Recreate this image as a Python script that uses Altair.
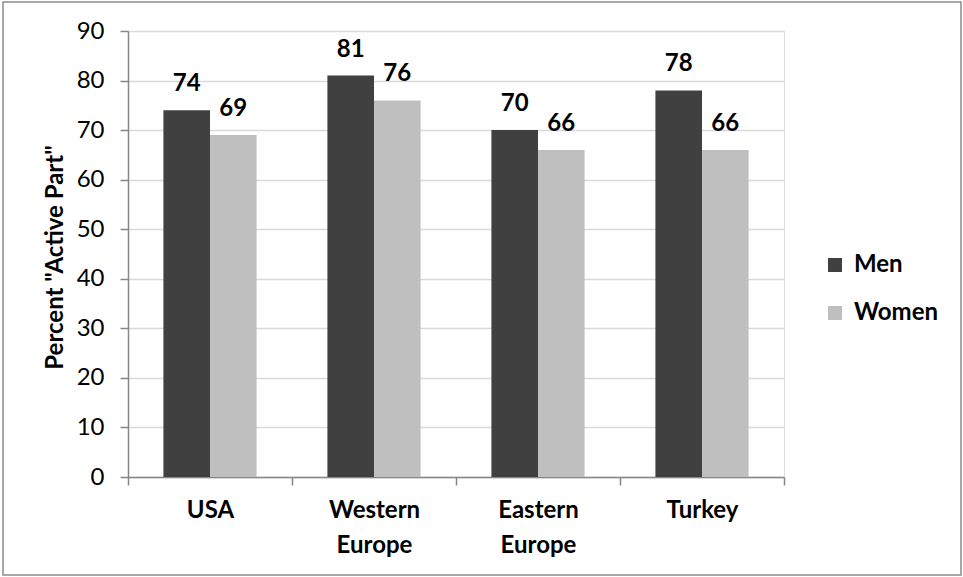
import altair as alt
import pandas as pd

regions = ["USA", "Western Europe", "Eastern Europe", "Turkey"]
series = ["Men", "Women"]
men = [74, 81, 70, 78]
women = [69, 76, 66, 66]
y_ticks = [0, 10, 20, 30, 40, 50, 60, 70, 80, 90]

rows = []
for i, r in enumerate(regions):
    rows.append({"region": r, "sex": "Men", "value": men[i]})
    rows.append({"region": r, "sex": "Women", "value": women[i]})
df = pd.DataFrame(rows)

FONT = "Lato"
AX = "#868686"

x_enc = alt.X(
    "region:N",
    sort=regions,
    scale=alt.Scale(paddingInner=0, paddingOuter=0),
    axis=alt.Axis(
        title=None,
        labelAngle=0,
        labelFont=FONT,
        labelFontSize=24,
        labelFontWeight="bold",
        labelColor="#000000",
        labelPadding=13,
        labelLineHeight=35,
        labelExpr="split(datum.label, ' ')",
        tickBand="extent",
        tickColor=AX,
        tickSize=8,
        tickWidth=1.5,
        domainColor=AX,
        domainWidth=1.5,
        grid=False,
    ),
)
xoff = alt.XOffset("sex:N", sort=series,
                   scale=alt.Scale(paddingOuter=0.76, paddingInner=0))
y_enc = alt.Y(
    "value:Q",
    scale=alt.Scale(domain=[0, 90], nice=False),
    axis=alt.Axis(
        title='Percent "Active Part"',
        titleFont=FONT,
        titleFontSize=24,
        titleFontWeight="bold",
        titleColor="#000000",
        titleX=-61,
        titleY=226,
        values=y_ticks,
        labelFont=FONT,
        labelFontSize=24,
        labelColor="#000000",
        labelPadding=16,
        tickColor=AX,
        tickSize=8,
        tickWidth=1.5,
        domainColor=AX,
        domainWidth=1.5,
        gridColor="#d9d9d9",
        gridWidth=1.3,
    ),
)

bars = alt.Chart(df).mark_bar(size=46.6).encode(
    x=x_enc,
    xOffset=xoff,
    y=y_enc,
    color=alt.Color(
        "sex:N",
        sort=series,
        scale=alt.Scale(domain=series, range=["#404040", "#bfbfbf"]),
        legend=alt.Legend(
            title=None,
            orient="none",
            legendX=695,
            legendY=222,
            symbolType="square",
            symbolSize=196,
            symbolStrokeWidth=0,
            labelFont=FONT,
            labelFontSize=24,
            labelFontWeight="bold",
            labelColor="#000000",
            labelOffset=7,
            rowPadding=24,
        ),
    ),
)

labels = alt.Chart(df).mark_text(
    font=FONT, fontSize=24, fontWeight="bold", color="#000000",
    baseline="alphabetic", dy=-19
).encode(
    x=alt.X("region:N", sort=regions),
    xOffset=alt.XOffset("sex:N", sort=series),
    y=alt.Y("value:Q"),
    text=alt.Text("value:Q"),
)

border = alt.Chart(pd.DataFrame({"b": [0]})).mark_rect(
    fill=None, stroke="#8c8c8c", strokeWidth=1.5, clip=False
).encode(
    x=alt.value(-125), x2=alt.value(833),
    y=alt.value(-29), y2=alt.value(544),
)

chart = alt.layer(bars, labels, border).properties(
    width=656,
    height=446,
    padding={"left": 128, "top": 31, "right": 179, "bottom": 100},
    autosize=alt.AutoSizeParams(type="none"),
).configure_view(stroke=None).configure(background="white")

chart.save("out.html", embed_options={"renderer": "svg", "actions": False})
